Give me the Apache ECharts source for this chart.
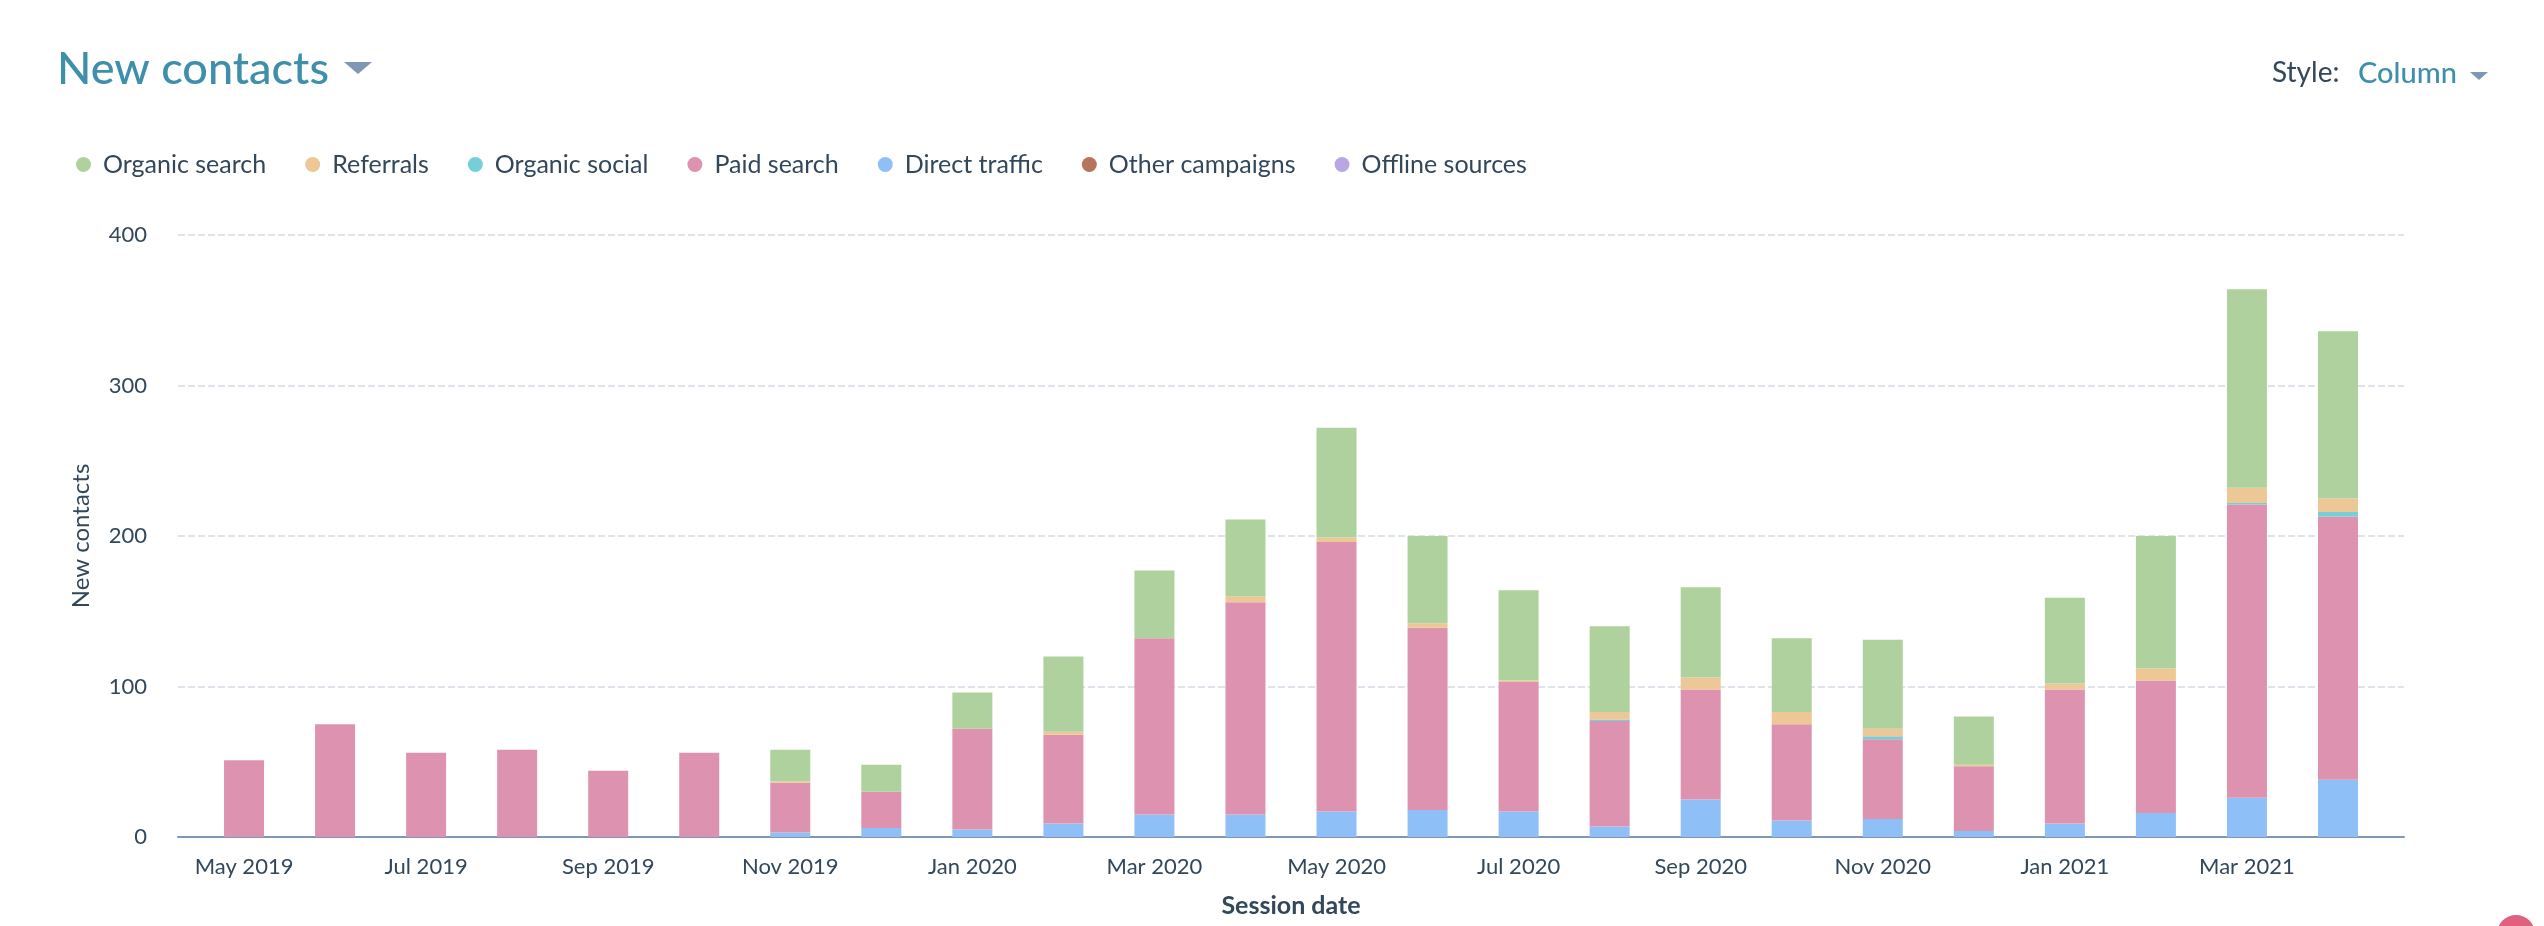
<!DOCTYPE html>
<html>
<head>
<meta charset="utf-8">
<style>
  html, body { margin: 0; padding: 0; background: #fff; }
  #chart { width: 2544px; height: 926px; }
</style>
<script src="https://cdn.jsdelivr.net/npm/echarts@6/dist/echarts.min.js"></script>
</head>
<body>
<div id="chart"></div>
<script>
const months = ['May 2019','Jun 2019','Jul 2019','Aug 2019','Sep 2019','Oct 2019','Nov 2019','Dec 2019',
  'Jan 2020','Feb 2020','Mar 2020','Apr 2020','May 2020','Jun 2020','Jul 2020','Aug 2020','Sep 2020','Oct 2020','Nov 2020','Dec 2020',
  'Jan 2021','Feb 2021','Mar 2021','Apr 2021'];

const directTraffic  = [0, 0, 0, 0, 0, 0, 3, 6, 5, 9, 15, 15, 17, 18, 17, 7, 25, 11, 12, 4, 9, 16, 26, 38];
const paidSearch     = [51, 75, 56, 58, 44, 56, 33, 24, 67, 59, 117, 141, 179, 121, 86, 70, 73, 64, 53, 43, 89, 88, 195, 175];
const organicSocial  = [0, 0, 0, 0, 0, 0, 0, 0, 0, 0, 0, 0, 0, 0, 0, 1, 0, 0, 2, 0, 0, 0, 1, 3];
const referrals      = [0, 0, 0, 0, 0, 0, 1, 0, 0, 2, 0, 4, 3, 3, 1, 5, 8, 8, 5, 1, 4, 8, 10, 9];
const organicSearch  = [0, 0, 0, 0, 0, 0, 21, 18, 24, 50, 45, 51, 73, 58, 60, 57, 60, 49, 59, 32, 57, 88, 132, 111];
const otherCampaigns = months.map(() => 0);
const offlineSources = months.map(() => 0);

const legendOrder = ['Organic search', 'Referrals', 'Organic social', 'Paid search', 'Direct traffic', 'Other campaigns', 'Offline sources'];

const FONT = 'Lato';
const TEXT = '#33475b';
const TEAL = '#3f8fab';
const SLATE = '#7f97b5';

function stackSeries(name, color, values) {
  return {
    name,
    type: 'bar',
    stack: 'contacts',
    barWidth: 40,
    xAxisIndex: 1,
    yAxisIndex: 1,
    itemStyle: { color },
    data: values,
  };
}

const chart = echarts.init(document.getElementById('chart'), null, { renderer: 'canvas' });

// grid 0 draws the frame (baseline, gridlines, titles), which overhangs the month
// bands on both sides; grid 1 is the narrower band area holding the columns
chart.setOption({
  animation: false,
  backgroundColor: '#fff',
  textStyle: { fontFamily: FONT },
  title: {
    text: 'New contacts',
    left: 52,
    top: 42,
    textStyle: { fontFamily: FONT, fontSize: 45, fontWeight: 500, color: TEAL },
  },
  legend: {
    data: legendOrder,
    left: 76,
    top: 152,
    padding: 0,
    icon: 'circle',
    itemWidth: 15,
    itemHeight: 15,
    itemGap: 39,
    textStyle: { fontFamily: FONT, fontSize: 25, color: TEXT, padding: [0, 0, 0, 7] },
  },
  grid: [
    { left: 178, right: 140, top: 235, bottom: 89 },
    { left: 198.5, right: 160.5, top: 235, bottom: 89 },
  ],
  xAxis: [
    {
      gridIndex: 0,
      type: 'value',
      min: 0,
      max: 1,
      name: 'Session date',
      nameLocation: 'middle',
      nameGap: 56,
      nameTextStyle: { fontFamily: FONT, fontSize: 25, fontWeight: 'bold', color: TEXT },
      splitLine: { show: false },
      axisTick: { show: false },
      axisLabel: { show: false },
      axisLine: { lineStyle: { color: SLATE, width: 2 } },
    },
    {
      gridIndex: 1,
      type: 'category',
      data: months,
      axisLine: { show: false },
      axisTick: { show: false },
      axisLabel: {
        interval: 1,
        fontFamily: FONT,
        fontSize: 22,
        color: TEXT,
        margin: 19,
      },
    },
  ],
  yAxis: [
    {
      gridIndex: 0,
      type: 'value',
      min: 0,
      max: 400,
      interval: 100,
      name: 'New contacts',
      nameLocation: 'middle',
      nameGap: 85,
      nameTextStyle: { fontFamily: FONT, fontSize: 24, color: TEXT },
      axisLine: { show: false },
      axisTick: { show: false },
      axisLabel: { fontFamily: FONT, fontSize: 22, color: TEXT, margin: 31 },
      splitLine: { lineStyle: { color: '#dfe3eb', width: 2, type: [7, 3] } },
    },
    {
      gridIndex: 1,
      type: 'value',
      min: 0,
      max: 400,
      interval: 100,
      show: false,
    },
  ],
  series: [
    stackSeries('Direct traffic', '#8fbff7', directTraffic),
    stackSeries('Paid search', '#dd93af', paidSearch),
    stackSeries('Organic social', '#74cfd8', organicSocial),
    stackSeries('Referrals', '#edc795', referrals),
    stackSeries('Organic search', '#afd19d', organicSearch),
    stackSeries('Other campaigns', '#b8735c', otherCampaigns),
    stackSeries('Offline sources', '#b9a7e4', offlineSources),
  ],
  graphic: [
    { type: 'polygon', shape: { points: [[344, 62], [372, 62], [358, 74]] }, style: { fill: SLATE } },
    { type: 'text', left: 2272, top: 59, style: { text: 'Style:', font: `28px ${FONT}`, fill: TEXT } },
    { type: 'text', left: 2358, top: 59, style: { text: 'Column', font: `500 29px ${FONT}`, fill: TEAL } },
    { type: 'polygon', shape: { points: [[2470, 72], [2488, 72], [2479, 80]] }, style: { fill: SLATE } },
    { type: 'circle', shape: { cx: 2516, cy: 934, r: 19 }, style: { fill: '#e0607f' } },
  ],
});
</script>
</body>
</html>
